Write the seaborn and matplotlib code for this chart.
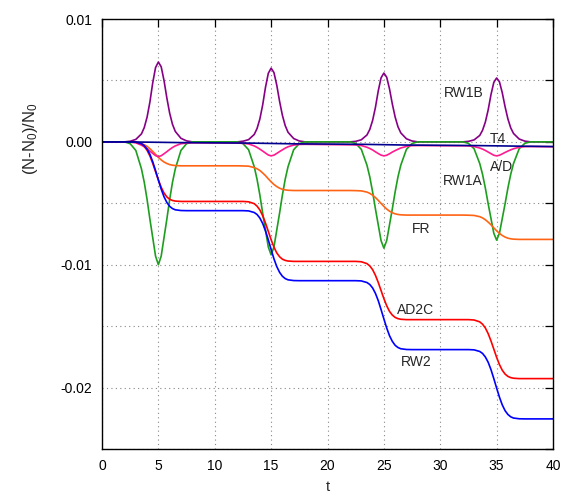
import matplotlib
matplotlib.use('Agg')
import matplotlib.pyplot as plt
import seaborn as sns
import pandas as pd
import numpy as np
from matplotlib.ticker import MultipleLocator, FuncFormatter

# time grid (dense around each pulse at t = 5, 15, 25, 35)
t = [0,
     2, 2.5, 3, 3.5, 3.75, 4, 4.25, 4.5, 4.75, 5, 5.25, 5.5, 5.75, 6, 6.25, 6.5, 7, 7.5, 8,
     12, 12.5, 13, 13.5, 13.75, 14, 14.25, 14.5, 14.75, 15, 15.25, 15.5, 15.75, 16, 16.25, 16.5, 17, 17.5, 18,
     22, 22.5, 23, 23.5, 23.75, 24, 24.25, 24.5, 24.75, 25, 25.25, 25.5, 25.75, 26, 26.25, 26.5, 27, 27.5, 28,
     32, 32.5, 33, 33.5, 33.75, 34, 34.25, 34.5, 34.75, 35, 35.25, 35.5, 35.75, 36, 36.25, 36.5, 37, 37.5, 38,
     40]

# values below in units of 1e-3
rw1b = [0,
        0, 0.05, 0.2, 0.65, 1.17, 2.02, 3.25, 4.81, 6.05, 6.5, 6.11, 5.0, 3.58, 2.34, 1.43, 0.85, 0.29, 0.08, 0,
        0, 0.05, 0.18, 0.6, 1.08, 1.86, 3.0, 4.44, 5.58, 6.0, 5.64, 4.62, 3.3, 2.16, 1.32, 0.78, 0.27, 0.07, 0,
        0, 0.04, 0.17, 0.56, 1.01, 1.74, 2.8, 4.14, 5.21, 5.6, 5.26, 4.31, 3.08, 2.02, 1.23, 0.73, 0.25, 0.07, 0,
        0, 0.04, 0.16, 0.52, 0.94, 1.61, 2.6, 3.85, 4.84, 5.2, 4.89, 4.0, 2.86, 1.87, 1.14, 0.68, 0.23, 0.06, 0,
        0]

rw1a = [0,
        0, -0.15, -0.7, -2.2, -3.3, -4.7, -6.3, -7.8, -9.3, -10.0, -9.3, -7.8, -6.3, -4.7, -3.3, -2.2, -0.7, -0.15, 0,
        0, -0.14, -0.64, -2.02, -3.04, -4.32, -5.8, -7.18, -8.56, -9.2, -8.56, -7.18, -5.8, -4.32, -3.04, -2.02, -0.64, -0.14, 0,
        0, -0.13, -0.61, -1.9, -2.85, -4.07, -5.45, -6.75, -8.04, -8.65, -8.04, -6.75, -5.45, -4.07, -2.85, -1.9, -0.61, -0.13, 0,
        0, -0.12, -0.56, -1.76, -2.64, -3.76, -5.04, -6.24, -7.44, -8.0, -7.44, -6.24, -5.04, -3.76, -2.64, -1.76, -0.56, -0.12, 0,
        0]

ad = [0,
      0, -0.02, -0.08, -0.27, -0.4, -0.57, -0.76, -0.94, -1.12, -1.2, -1.13, -0.97, -0.8, -0.62, -0.46, -0.33, -0.15, -0.1, -0.08,
      -0.1, -0.12, -0.17, -0.33, -0.45, -0.59, -0.75, -0.91, -1.07, -1.14, -1.08, -0.94, -0.79, -0.65, -0.51, -0.4, -0.26, -0.21, -0.2,
      -0.24, -0.25, -0.3, -0.44, -0.54, -0.66, -0.81, -0.95, -1.08, -1.14, -1.09, -0.97, -0.83, -0.71, -0.6, -0.5, -0.37, -0.31, -0.3,
      -0.32, -0.33, -0.38, -0.5, -0.59, -0.7, -0.83, -0.96, -1.09, -1.14, -1.09, -0.98, -0.86, -0.75, -0.65, -0.56, -0.44, -0.39, -0.38,
      -0.4]

fr = [0,
      0, -0.01, -0.03, -0.13, -0.23, -0.37, -0.56, -0.78, -1.02, -1.26, -1.47, -1.64, -1.76, -1.85, -1.9, -1.93, -1.95, -1.95, -1.95,
      -1.95, -1.96, -1.98, -2.09, -2.19, -2.33, -2.53, -2.75, -3.01, -3.25, -3.47, -3.64, -3.77, -3.86, -3.91, -3.94, -3.96, -3.96, -3.96,
      -3.96, -3.97, -3.99, -4.09, -4.19, -4.34, -4.53, -4.76, -5.01, -5.25, -5.47, -5.64, -5.77, -5.86, -5.91, -5.94, -5.96, -5.96, -5.96,
      -5.96, -5.97, -5.99, -6.09, -6.19, -6.34, -6.53, -6.75, -7.0, -7.24, -7.45, -7.62, -7.75, -7.84, -7.89, -7.92, -7.94, -7.94, -7.94,
      -7.94]

ad2c = [0,
        0, 0, -0.03, -0.18, -0.37, -0.69, -1.15, -1.75, -2.43, -3.1, -3.7, -4.16, -4.48, -4.67, -4.77, -4.82, -4.85, -4.85, -4.85,
        -4.85, -4.85, -4.88, -5.03, -5.23, -5.54, -6.01, -6.61, -7.29, -7.97, -8.57, -9.04, -9.35, -9.55, -9.65, -9.7, -9.73, -9.73, -9.73,
        -9.73, -9.73, -9.76, -9.91, -10.1, -10.4, -10.86, -11.44, -12.1, -12.76, -13.34, -13.8, -14.1, -14.29, -14.39, -14.44, -14.47, -14.47, -14.47,
        -14.47, -14.47, -14.5, -14.65, -14.84, -15.15, -15.61, -16.2, -16.87, -17.54, -18.13, -18.59, -18.9, -19.09, -19.19, -19.24, -19.27, -19.27, -19.27,
        -19.27]

rw2 = [0,
       0, 0, -0.02, -0.15, -0.31, -0.59, -1.02, -1.62, -2.34, -3.11, -3.85, -4.47, -4.93, -5.25, -5.43, -5.53, -5.59, -5.6, -5.6,
       -5.6, -5.6, -5.62, -5.75, -5.91, -6.2, -6.64, -7.25, -7.98, -8.76, -9.52, -10.15, -10.62, -10.94, -11.13, -11.23, -11.29, -11.3, -11.3,
       -11.3, -11.3, -11.32, -11.45, -11.61, -11.89, -12.33, -12.92, -13.65, -14.41, -15.15, -15.78, -16.24, -16.56, -16.74, -16.84, -16.9, -16.91, -16.91,
       -16.91, -16.91, -16.93, -17.06, -17.22, -17.51, -17.94, -18.54, -19.27, -20.04, -20.78, -21.41, -21.88, -22.19, -22.38, -22.48, -22.54, -22.55, -22.55,
       -22.55]

t_t4 = [0, 2, 7, 13, 17, 23, 27, 33, 37, 40]
t4 = [0, 0, -0.06, -0.1, -0.16, -0.2, -0.26, -0.3, -0.35, -0.38]

series_names = ["RW1B", "RW1A", "FR", "A/D", "AD2C", "RW2"]
series_vals = [rw1b, rw1a, fr, ad, ad2c, rw2]
colors = {"RW1B": "#860086", "RW1A": "#1e9e1e", "FR": "#ff6314", "A/D": "#ff1a90",
          "AD2C": "#ff0000", "RW2": "#0000ff", "T4": "#000090"}

# label positions (t, value)
label_names = ["RW1B", "T4", "A/D", "RW1A", "FR", "AD2C", "RW2"]
label_t = [32.1, 35.1, 35.4, 32.0, 28.3, 27.8, 27.9]
label_y = [0.0040, 0.00027, -0.00207, -0.00316, -0.00711, -0.01366, -0.01795]

frames = [pd.DataFrame({"t": t, "value": np.array(v) * 1e-3, "series": n})
          for n, v in zip(series_names, series_vals)]
frames.append(pd.DataFrame({"t": t_t4, "value": np.array(t4) * 1e-3, "series": "T4"}))
df = pd.concat(frames, ignore_index=True)

sns.set_style("white")
plt.rcParams['font.family'] = ['Liberation Sans', 'DejaVu Sans']
plt.rcParams['mathtext.default'] = 'regular'

fig = plt.figure(figsize=(5.81, 4.98), dpi=100)
ax = fig.add_axes([102 / 581, 1 - 449 / 498, 451 / 581, 430 / 498])

for name in series_names + ["T4"]:
    sns.lineplot(data=df[df["series"] == name], x="t", y="value", color=colors[name],
                 linewidth=1.2, ax=ax, legend=False)

for name, lx, ly in zip(label_names, label_t, label_y):
    ax.text(lx, ly, name, ha="center", va="center", fontsize=10)


def ylab(v, pos):
    k = round(v / 0.005)
    if k % 2:
        return ""
    return "%.2f" % (k * 0.005 + 0.0)


ax.set_xlim(0, 40)
ax.set_ylim(-0.025, 0.01)
ax.xaxis.set_major_locator(MultipleLocator(5))
ax.yaxis.set_major_locator(MultipleLocator(0.005))
ax.yaxis.set_major_formatter(FuncFormatter(ylab))
ax.xaxis.set_major_formatter(FuncFormatter(lambda v, p: "%d" % v))
ax.tick_params(direction="in", length=5.5, width=0.9, top=True, right=True,
               labelsize=10, pad=7, colors="black")
ax.grid(True, linestyle=(0, (1, 3)), color="#888888", linewidth=0.8)
for s in ax.spines.values():
    s.set_color("black")
    s.set_linewidth(1.0)

ax.set_xlabel("t", fontsize=10.5)
ax.set_ylabel(r"(N-N$_0$)/N$_0$", fontsize=12)
ax.xaxis.label.set_va("center")
ax.xaxis.set_label_coords(0.5, -0.088)
ax.yaxis.set_label_coords(-0.1375, 0.722)

fig.savefig("out.png", dpi=100)
plt.close(fig)
